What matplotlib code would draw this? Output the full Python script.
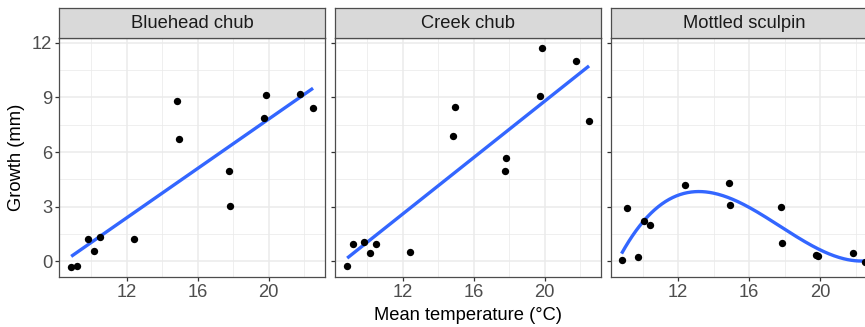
import numpy as np
import matplotlib
matplotlib.use("Agg")
import matplotlib.pyplot as plt

# ---- data ----
temperature = [8.88, 9.23, 9.81, 10.15, 10.5, 12.41, 14.86, 14.93, 17.79, 17.81, 19.72, 19.87, 21.78, 22.5]
bluehead = [-0.31, -0.26, 1.24, 0.57, 1.31, 1.24, 8.81, 6.74, 4.97, 3.01, 7.86, 9.14, 9.21, 8.44]
creek_temperature = [8.88, 9.23, 9.81, 10.15, 10.5, 12.41, 14.86, 14.93, 17.81, 17.79, 19.72, 19.87, 21.78, 22.5]
creek = [-0.28, 0.94, 1.03, 0.44, 0.96, 0.48, 6.87, 8.49, 5.65, 4.93, 9.06, 11.72, 11.02, 7.68]
sculpin_temperature = [8.81, 9.11, 9.75, 10.07, 10.43, 12.36, 14.84, 14.91, 17.80, 17.82, 19.75, 19.90, 21.86, 22.5]
sculpin = [0.04, 2.90, 0.24, 2.18, 1.98, 4.17, 4.28, 3.08, 2.99, 0.98, 0.31, 0.26, 0.46, -0.04]

species = ["Bluehead chub", "Creek chub", "Mottled sculpin"]
xs = [temperature, creek_temperature, sculpin_temperature]
ys = [bluehead, creek, sculpin]
fit_degree = [1, 1, 3]

x_major = [12, 16, 20]
x_minor = [10, 14, 18, 22]
y_major = [0, 3, 6, 9, 12]
y_minor = [1.5, 4.5, 7.5, 10.5]

W, H = 865, 327
fig = plt.figure(figsize=(W / 100, H / 100), dpi=100)
plt.rcParams['font.family'] = ['Liberation Sans', 'DejaVu Sans']

panel_w = 266
panel_lefts = [59.3, 335.3, 610.9]
panel_top = 37.7
panel_bot = 276.7
strip_top = 8.3

fs = 13.2
for i, name in enumerate(species):
    l = panel_lefts[i]
    ax = fig.add_axes([l / W, (H - panel_bot) / H, panel_w / W, (panel_bot - panel_top) / H])
    ax.set_xlim(8.21, 23.19)
    ax.set_ylim(-0.86, 12.29)
    ax.set_xticks(x_major)
    ax.set_xticks(x_minor, minor=True)
    ax.set_yticks(y_major)
    ax.set_yticks(y_minor, minor=True)
    ax.grid(True, which='major', color='#EBEBEB', lw=1.1, zorder=0)
    ax.grid(True, which='minor', color='#EBEBEB', lw=0.55, zorder=0)
    ax.set_axisbelow(True)
    for s in ax.spines.values():
        s.set_color('#4D4D4D')
        s.set_linewidth(0.9)
    ax.tick_params(which='major', length=3.2, width=0.9, color='#333333',
                   labelsize=fs, labelcolor='#4D4D4D', pad=2)
    ax.tick_params(which='minor', length=0)
    if i > 0:
        ax.tick_params(axis='y', labelleft=False)
    x = np.array(xs[i]); y = np.array(ys[i])
    coef = np.polyfit(x, y, fit_degree[i])
    xx = np.linspace(x.min(), x.max(), 200)
    ax.plot(xx, np.polyval(coef, xx), color='#3366FF', lw=2.4, zorder=3, solid_capstyle='butt')
    ax.scatter(x, y, s=28, color='black', zorder=4, linewidths=0)
    # strip
    sax = fig.add_axes([l / W, (H - panel_top) / H, panel_w / W, (panel_top - strip_top) / H])
    sax.set_facecolor('#D9D9D9')
    sax.set_xticks([]); sax.set_yticks([])
    for s in sax.spines.values():
        s.set_color('#4D4D4D')
        s.set_linewidth(0.9)
    sax.text(0.5, 0.5, name, ha='center', va='center', fontsize=fs, color='#1A1A1A',
             transform=sax.transAxes)

fig.text(468 / W, 1 - 315 / H, "Mean temperature (°C)", ha='center', va='center',
         fontsize=fs, color='black')
fig.text(17 / W, 1 - 157 / H, "Growth (mm)", ha='center', va='center', rotation=90,
         fontsize=fs, color='black')

fig.savefig("out.png", dpi=100, facecolor='white')
